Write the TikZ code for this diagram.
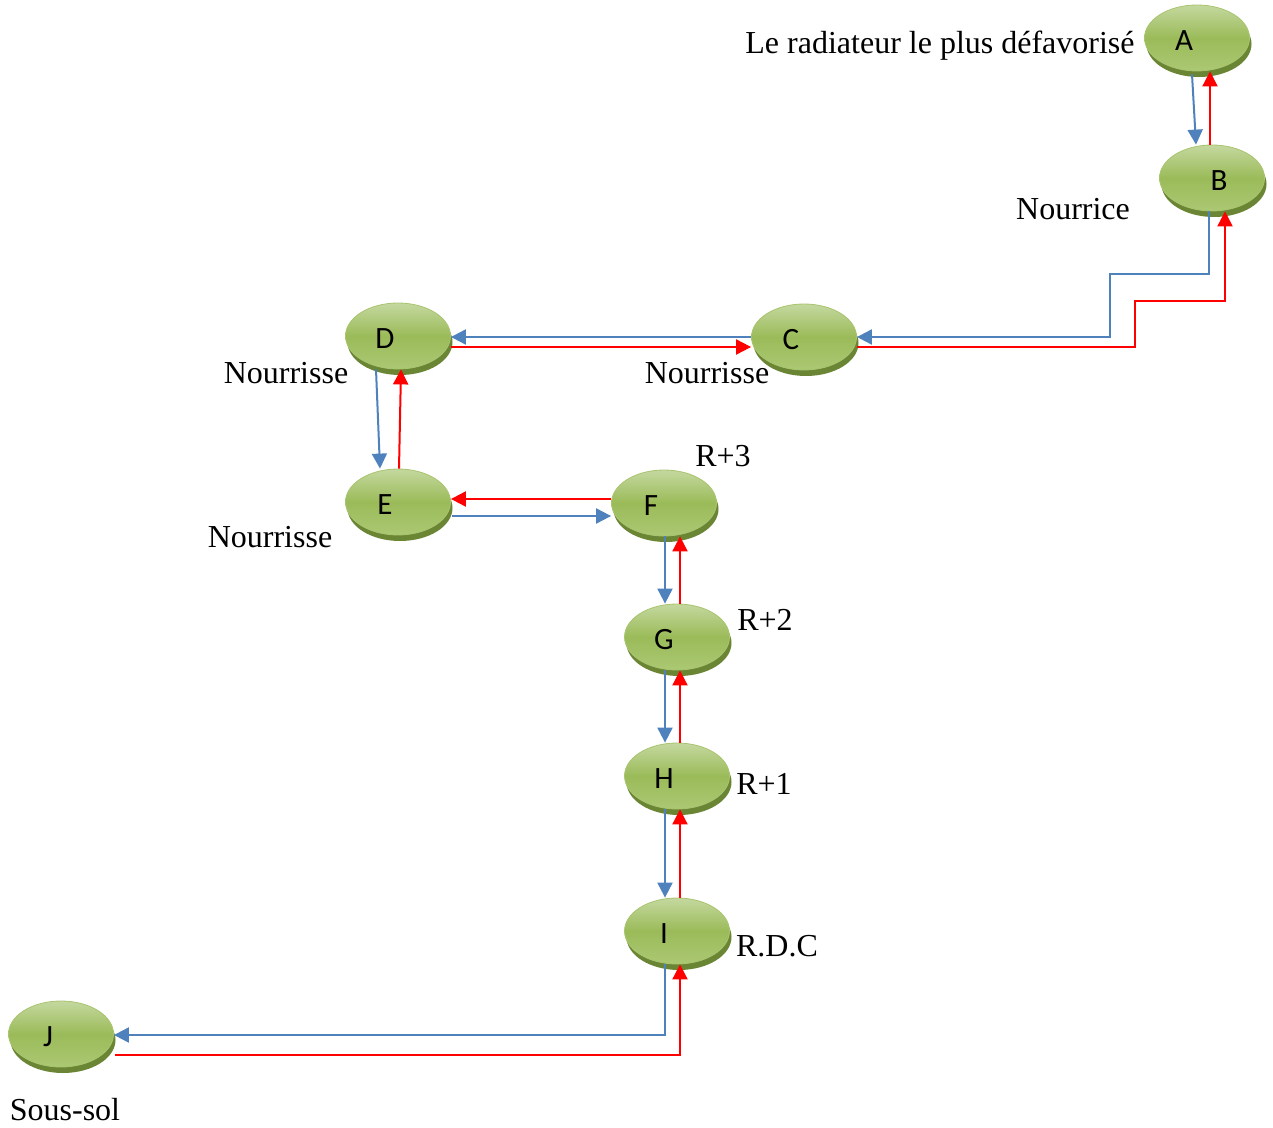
\documentclass[tikz,border=0pt]{standalone}
\usepackage{fontspec}
\setmainfont{Liberation Serif}
\newfontfamily\nodefont{Carlito}
\usetikzlibrary{shapes.geometric,arrows.meta,calc,shadows}
\definecolor{feedblue}{HTML}{4F81BD}
\definecolor{backred}{HTML}{FF0000}
\definecolor{leaftop}{HTML}{C4D89F}
\definecolor{leafmid}{HTML}{9BBB59}
\definecolor{leafbot}{HTML}{ABC873}
\definecolor{leafrim}{HTML}{A9C46E}
\definecolor{leafshade}{HTML}{6A8534}
\begin{document}
\begin{tikzpicture}[x=0.5pt,y=-0.5pt,
  radiator/.style={ellipse, minimum width=52.5pt, minimum height=33pt, inner sep=0pt,
    draw=leafrim, line width=0.4pt,
    top color=leaftop, bottom color=leafbot, middle color=leafmid,
    drop shadow={shadow xshift=1pt, shadow yshift=-3pt, fill=leafshade, opacity=1}},
  tag/.style={font=\nodefont\fontsize{15.5}{16}\selectfont, xshift=-6.5pt, yshift=-1.5pt},
  caption/.style={font=\fontsize{16}{19}\selectfont, inner sep=0pt},
  feedpipe/.style={draw=feedblue, line width=1pt, -{Triangle[length=7.5pt,width=7.5pt]}},
  returnpipe/.style={draw=backred, line width=1pt, -{Triangle[length=7.5pt,width=7.5pt]}}]
\useasboundingbox (0,0) rectangle (1273,1128);

% radiators and risers
\node[radiator, label={[tag]center:A}] (A) at (1197,38) {};
\node[radiator, label={[tag, xshift=10pt]center:B}] (B) at (1212,178) {};
\node[radiator, label={[tag]center:C}] (C) at (804,337) {};
\node[radiator, label={[tag]center:D}] (D) at (398,336) {};
\node[radiator, label={[tag]center:E}] (E) at (398,502) {};
\node[radiator, label={[tag]center:F}] (F) at (664,503) {};
\node[radiator, label={[tag]center:G}] (G) at (677,637) {};
\node[radiator, label={[tag]center:H}] (H) at (677,776) {};
\node[radiator, label={[tag]center:I}] (I) at (677,931) {};
\node[radiator, label={[tag]center:J}] (J) at (61,1034) {};

% captions
\node[caption] (tA) at (940,46) {Le radiateur le plus défavorisé};
\node[caption] (tB) at (1073,209) {Nourrice};
\node[caption] (tD) at (286,373) {Nourrisse};
\node[caption] (tC) at (707,373) {Nourrisse};
\node[caption] (tE) at (270,537) {Nourrisse};
\node[caption] (tF) at (723,456) {R+3};
\node[caption] (tG) at (765,620) {R+2};
\node[caption] (tH) at (764,784) {R+1};
\node[caption] (tI) at (777,946) {R.D.C};
\node[caption] (tJ) at (65,1110) {Sous-sol};

% A <-> B
\draw[feedpipe] ($(A.south)+(-5,3)$) -- ($(B.north)+(-16,0)$);
\draw[returnpipe] ($(B.north)+(-2,0)$) -- ($(A.south)+(13,0)$);

% B <-> C
\draw[feedpipe] ($(B.south)+(-3,0)$) |- (1110,274) |- (C.east);
\draw[returnpipe] ($(C.east)+(0,10)$) -| (1135,301) -| ($(B.south)+(13,0)$);

% C <-> D
\draw[feedpipe] (C.west) -- (C.west -| D.east);
\draw[returnpipe] ($(D.east)+(0,11)$) -- ($(C.west)+(0,10)$);

% D <-> E
\draw[feedpipe] ($(D.south)+(-22,0)$) -- ($(E.north)+(-18,0)$);
\draw[returnpipe] ($(E.north)+(1,0)$) -- ($(D.south)+(3,0)$);

% E <-> F
\draw[returnpipe] ($(F.west)+(0,-4)$) -- ($(E.east)+(0,-3)$);
\draw[feedpipe] ($(E.east)+(1,14)$) -- ($(F.west)+(0,13)$);

% F <-> G
\draw[feedpipe] ($(F.south)+(1,0)$) -- ($(G.north)+(-12,0)$);
\draw[returnpipe] ($(G.north)+(3,0)$) -- ($(F.south)+(16,0)$);

% G <-> H
\draw[feedpipe] ($(G.south)+(-12,0)$) -- ($(H.north)+(-12,0)$);
\draw[returnpipe] ($(H.north)+(3,0)$) -- ($(G.south)+(3,0)$);

% H <-> I
\draw[feedpipe] ($(H.south)+(-12,0)$) -- ($(I.north)+(-12,0)$);
\draw[returnpipe] ($(I.north)+(3,0)$) -- ($(H.south)+(3,0)$);

% I <-> J
\draw[feedpipe] ($(I.south)+(-12,0)$) |- ($(J.east)+(0,1)$);
\draw[returnpipe] ($(J.east)+(1,21)$) -| ($(I.south)+(3,0)$);
\end{tikzpicture}
\end{document}
